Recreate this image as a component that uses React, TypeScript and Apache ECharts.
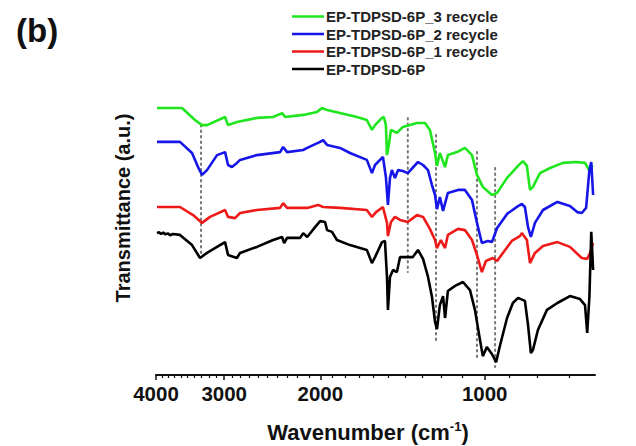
import React, { useEffect, useRef } from "react";
import * as echarts from "echarts";

// ---- data (wavenumber cm-1, transmittance a.u.) ----
const seriesNames = [
  "EP-TDPSD-6P_3 recycle",
  "EP-TDPSD-6P_2 recycle",
  "EP-TDPSD-6P_1 recycle",
  "EP-TDPSD-6P",
];

const recycle3 = [
  [3983, 89.0], [3585, 89.0], [3393, 85.0], [3294, 83.3], [3226, 83.3], [2989, 86.0], [2952, 83.3],
  [2843, 84.3], [2613, 85.7], [2441, 86.0], [2350, 87.3], [2320, 86.0], [2150, 86.7], [2028, 87.7],
  [1985, 89.0], [1944, 88.3], [1841, 87.3], [1714, 86.0], [1644, 85.0], [1609, 81.7], [1588, 83.3],
  [1542, 85.7], [1530, 86.0], [1517, 83.3], [1510, 73.3], [1498, 76.7], [1485, 81.7], [1448, 80.7],
  [1412, 82.7], [1331, 84.0], [1286, 84.0], [1260, 81.7], [1233, 74.0], [1223, 69.7], [1208, 74.0],
  [1182, 69.3], [1168, 73.3], [1124, 74.3], [1087, 75.7], [1055, 73.3], [1033, 66.7], [1008, 62.7],
  [970, 60.0], [949, 60.7], [910, 65.7], [869, 69.7], [851, 71.3], [837, 69.7], [826, 61.7],
  [816, 62.7], [792, 67.3], [759, 69.0], [719, 70.7], [680, 71.0], [655, 70.7], [641, 67.7], [635, 70.0],
];

const recycle2 = [
  [3983, 77.7], [3615, 77.7], [3436, 74.0], [3350, 69.3], [3294, 66.7], [3226, 68.3], [3092, 73.3],
  [2989, 74.3], [2952, 70.0], [2903, 69.3], [2843, 70.7], [2806, 71.7], [2613, 73.3], [2370, 74.3],
  [2340, 76.0], [2301, 74.3], [2150, 75.0], [2114, 75.7], [2002, 77.7], [1977, 78.3], [1944, 76.7],
  [1841, 75.7], [1765, 74.0], [1644, 71.7], [1609, 67.3], [1588, 70.0], [1536, 72.7], [1517, 66.0],
  [1504, 56.7], [1491, 65.7], [1479, 68.3], [1460, 65.7], [1441, 68.3], [1412, 68.0], [1383, 67.3],
  [1325, 71.0], [1297, 70.0], [1270, 68.3], [1249, 63.3], [1233, 60.0], [1223, 55.3], [1208, 59.3],
  [1192, 54.7], [1168, 60.7], [1119, 61.7], [1087, 61.7], [1055, 58.3], [1033, 50.7], [1012, 44.0],
  [987, 44.7], [970, 44.3], [949, 49.0], [910, 53.7], [869, 56.3], [855, 57.0], [844, 56.0],
  [833, 49.3], [823, 46.0], [809, 50.7], [782, 55.0], [736, 57.7], [698, 56.3], [677, 54.3],
  [664, 54.0], [652, 55.7], [643, 68.3], [638, 71.0], [633, 60.0],
];

const recycle1 = [
  [3983, 56.0], [3615, 56.0], [3421, 53.3], [3294, 50.7], [3185, 52.7], [2989, 55.0], [2952, 52.7],
  [2866, 52.3], [2806, 54.0], [2613, 55.0], [2370, 55.7], [2340, 57.3], [2301, 55.7], [2114, 55.7],
  [2019, 56.7], [1977, 56.0], [1841, 55.7], [1644, 55.0], [1609, 52.7], [1581, 54.3], [1536, 56.0],
  [1510, 50.7], [1504, 46.3], [1485, 51.0], [1460, 52.7], [1429, 51.7], [1383, 51.0], [1331, 53.3],
  [1297, 52.7], [1260, 48.7], [1233, 45.0], [1223, 42.3], [1203, 45.0], [1182, 42.3], [1168, 46.7],
  [1119, 48.7], [1087, 48.3], [1055, 45.0], [1033, 40.0], [1012, 34.3], [995, 38.0], [966, 39.0],
  [949, 38.0], [926, 40.7], [892, 44.7], [862, 46.3], [855, 47.3], [837, 45.0], [826, 37.3],
  [809, 40.7], [782, 43.0], [736, 44.3], [698, 42.7], [664, 39.0], [649, 38.7], [641, 40.7], [633, 44.0],
];

const pristine = [
  [3983, 47.3], [3950, 47.6], [3915, 47.0], [3880, 47.5], [3850, 46.9], [3800, 47.2], [3770, 46.6],
  [3723, 47.0], [3615, 46.7], [3436, 43.3], [3322, 39.0], [3226, 40.7], [3092, 42.7], [2989, 44.3],
  [2952, 40.0], [2843, 39.0], [2806, 40.7], [2613, 42.7], [2441, 45.0], [2350, 46.0], [2330, 44.0],
  [2301, 45.7], [2178, 45.7], [2150, 47.3], [2114, 46.0], [2045, 49.3], [2002, 51.3], [1961, 51.0],
  [1944, 48.3], [1904, 47.7], [1865, 45.0], [1765, 43.3], [1644, 41.7], [1609, 37.3], [1588, 39.3],
  [1542, 44.3], [1523, 44.7], [1510, 32.7], [1504, 21.7], [1491, 32.7], [1472, 35.0], [1448, 34.3],
  [1429, 39.3], [1389, 39.3], [1354, 39.3], [1325, 41.7], [1297, 38.7], [1270, 32.7], [1249, 26.0],
  [1233, 17.7], [1223, 15.3], [1208, 23.3], [1192, 26.3], [1182, 19.0], [1168, 28.0], [1133, 29.7],
  [1096, 31.0], [1064, 28.3], [1042, 21.7], [1020, 11.7], [1008, 6.3], [991, 9.3], [970, 7.0],
  [953, 4.3], [937, 10.0], [910, 19.0], [888, 24.0], [869, 25.7], [844, 24.7], [833, 16.7],
  [823, 7.3], [816, 8.3], [799, 15.0], [769, 21.7], [736, 24.0], [698, 26.3], [669, 25.3],
  [655, 23.3], [649, 14.0], [643, 26.0], [638, 47.7], [633, 35.0],
];

const majorTicks = [4000, 3000, 2000, 1000];
const minorTicks = [
  3900, 3800, 3700, 3600, 3500, 3400, 3300, 3200, 3100,
  2900, 2800, 2700, 2600, 2500, 2400, 2300, 2200, 2100,
  1900, 1800, 1700, 1600, 1500, 1400, 1300, 1200, 1100,
  900, 800, 700,
];

const markerWn = [3308, 1383, 1228, 1033, 957];
const markerTop = [83.3, 85.7, 80.0, 74.3, 69.0];
const markerBottom = [40.7, 34.3, 11.7, 5.0, 2.7];

const WN_MIN = 628;
const WN_MAX = 4000;

// --------------------------------------------------
const seriesData = [recycle3, recycle2, recycle1, pristine];
const seriesColors = ["#1fe61f", "#1616e8", "#ee1a1a", "#000000"];
const FONT = "'Liberation Sans', Arial, Helvetica, sans-serif";
const lg = (w: number) => Math.log10(w);

export default function App() {
  const ref = useRef<HTMLDivElement>(null);

  useEffect(() => {
    if (!ref.current) return;
    const chart = echarts.init(ref.current, undefined, { renderer: "svg" });

    const xCommon = {
      type: "value",
      inverse: true,
      min: lg(WN_MIN),
      max: lg(WN_MAX),
      splitLine: { show: false },
      position: "bottom",
    };

    const curveSeries = seriesData.map((d, i) => ({
      name: seriesNames[i],
      type: "line",
      xAxisIndex: 0,
      data: d.map(([w, t]) => [lg(w), t]),
      showSymbol: false,
      symbol: "none",
      lineStyle: { color: seriesColors[i], width: 2.6 },
      itemStyle: { color: seriesColors[i] },
      z: 3,
    }));

    const markerSeries = markerWn.map((w, i) => ({
      name: "marker" + i,
      type: "line",
      xAxisIndex: 0,
      data: [
        [lg(w), markerTop[i]],
        [lg(w), markerBottom[i]],
      ],
      showSymbol: false,
      symbol: "none",
      silent: true,
      lineStyle: { color: "#777", width: 2, type: [1.5, 4], cap: "round" },
      z: 2,
    }));

    chart.setOption({
      animation: false,
      backgroundColor: "#fff",
      grid: { left: 156, right: 41, top: 90, bottom: 71, containLabel: false },
      legend: {
        data: seriesNames,
        orient: "vertical",
        left: 292,
        top: 9,
        icon: "rect",
        itemWidth: 32,
        itemHeight: 2.5,
        itemGap: 2.5,
        padding: 0,
        selectedMode: false,
        textStyle: { fontFamily: FONT, fontSize: 15, fontWeight: "bold", color: "#222", padding: [0, 0, 0, -3] },
      },
      xAxis: [
        {
          ...xCommon,
          axisLine: { show: true, lineStyle: { color: "#111", width: 2 } },
          axisTick: {
            show: true,
            inside: false,
            length: 5,
            lineStyle: { color: "#111", width: 1.5 },
            customValues: majorTicks.map(lg),
          },
          axisLabel: {
            show: true,
            margin: 8,
            customValues: majorTicks.map(lg),
            formatter: (v: number) => String(Math.round(Math.pow(10, v) / 10) * 10),
            fontFamily: FONT,
            fontSize: 20.5,
            fontWeight: "bold",
            color: "#111",
          },
        },
        {
          ...xCommon,
          axisLine: { show: false },
          axisTick: {
            show: true,
            inside: false,
            length: 3,
            lineStyle: { color: "#111", width: 1.2 },
            customValues: minorTicks.map(lg),
          },
          axisLabel: { show: false },
        },
      ],
      yAxis: {
        type: "value",
        min: 0,
        max: 95,
        axisLine: { show: false },
        axisTick: { show: false },
        axisLabel: { show: false },
        splitLine: { show: false },
      },
      graphic: [
        {
          type: "text",
          x: 16,
          y: 30,
          style: {
            text: "(b)",
            font: `bold 33px ${FONT}`,
            fill: "#111",
            verticalAlign: "middle",
            align: "left",
          },
        },
        {
          type: "text",
          x: 123,
          y: 208,
          rotation: Math.PI / 2,
          style: {
            text: "Transmittance (a.u.)",
            font: `bold 20px ${FONT}`,
            fill: "#111",
            align: "center",
            verticalAlign: "middle",
          },
        },
        {
          type: "text",
          x: 368,
          y: 432,
          style: {
            text: "{a|Wavenumber (cm}{s|-1}{a|)}",
            align: "center",
            verticalAlign: "middle",
            rich: {
              a: { font: `bold 22px ${FONT}`, fill: "#111", lineHeight: 24 },
              s: { font: `bold 13px ${FONT}`, fill: "#111", verticalAlign: "top", lineHeight: 24 },
            },
          },
        },
      ],
      series: [...markerSeries, ...curveSeries],
    });

    return () => chart.dispose();
  }, []);

  return (
    <div
      ref={ref}
      style={{ position: "fixed", left: 0, top: 0, width: 636, height: 446, background: "#fff" }}
    />
  );
}
